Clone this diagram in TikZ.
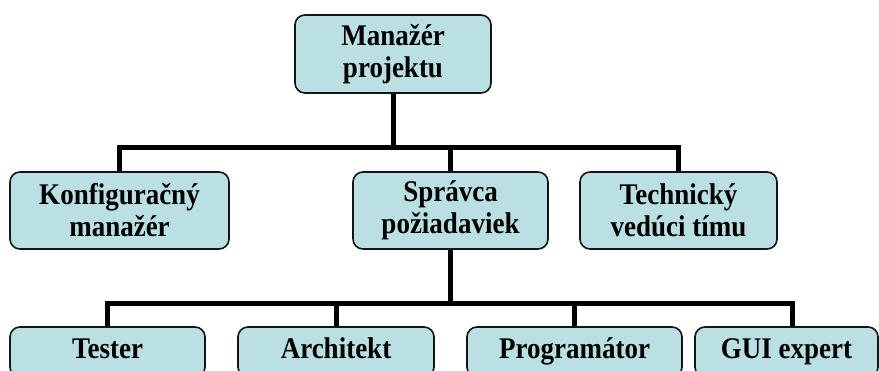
\documentclass[tikz,border=0pt]{standalone}
\usepackage{fontspec}
\setmainfont{Liberation Serif}
\newfontfamily\boxfont[FakeStretch=0.9]{Liberation Serif}
\definecolor{boxfill}{RGB}{187,224,227}
\definecolor{boxline}{RGB}{20,20,20}
\tikzset{
  role/.style={draw=boxline, fill=boxfill, line width=1.6pt, rounded corners=10pt,
    inner sep=0pt, align=center, font=\boxfont\bfseries\fontsize{30}{32}\selectfont},
  leafrole/.style={role, text height=21pt, text depth=7pt},
  bus/.style={line width=5pt, line join=miter, black}
}
\begin{document}
\begin{tikzpicture}[x=1pt,y=-1pt]
\useasboundingbox (0,0) rectangle (879,371);
\clip (0,0) rectangle (879,371);
% top
\node[role, minimum width=196pt, minimum height=78pt] (pm) at (393,54) {Manažér\\projektu};
% level 2
\node[role, minimum width=219pt, minimum height=77pt] (konf) at (119.5,210.5) {Konfiguračný\\manažér};
\node[role, minimum width=195pt, minimum height=77pt] (sprav) at (450.5,210.5) {Správca\\požiadaviek};
\node[role, minimum width=197pt, minimum height=77pt] (tech) at (678.5,210.5) {Technický\\vedúci tímu};
% level 3
\node[leafrole, minimum width=195pt, minimum height=50pt] (tester) at (107.5,352) {Tester};
\node[leafrole, minimum width=196pt, minimum height=50pt] (arch) at (336,352) {Architekt};
\node[leafrole, minimum width=215pt, minimum height=50pt] (prog) at (574.5,352) {Programátor};
\node[leafrole, minimum width=183pt, minimum height=50pt] (gui) at (786.5,352) {GUI expert};
% bus coordinates
\coordinate (b1) at (0,148);
\coordinate (b2) at (0,304);
\coordinate (guitop) at ([xshift=5.5pt]gui.north);
% connectors level 1-2
\draw[bus] (pm.south) -- (pm.south |- b1);
\draw[bus] (konf.north) -- (konf.north |- b1) -- (tech.north |- b1) -- (tech.north);
\draw[bus] (sprav.north) -- (sprav.north |- b1);
% connectors level 2-3
\draw[bus] (sprav.south) -- (sprav.south |- b2);
\draw[bus] (tester.north) -- (tester.north |- b2) -- (guitop |- b2) -- (guitop);
\draw[bus] (arch.north) -- (arch.north |- b2);
\draw[bus] (prog.north) -- (prog.north |- b2);
\end{tikzpicture}
\end{document}
